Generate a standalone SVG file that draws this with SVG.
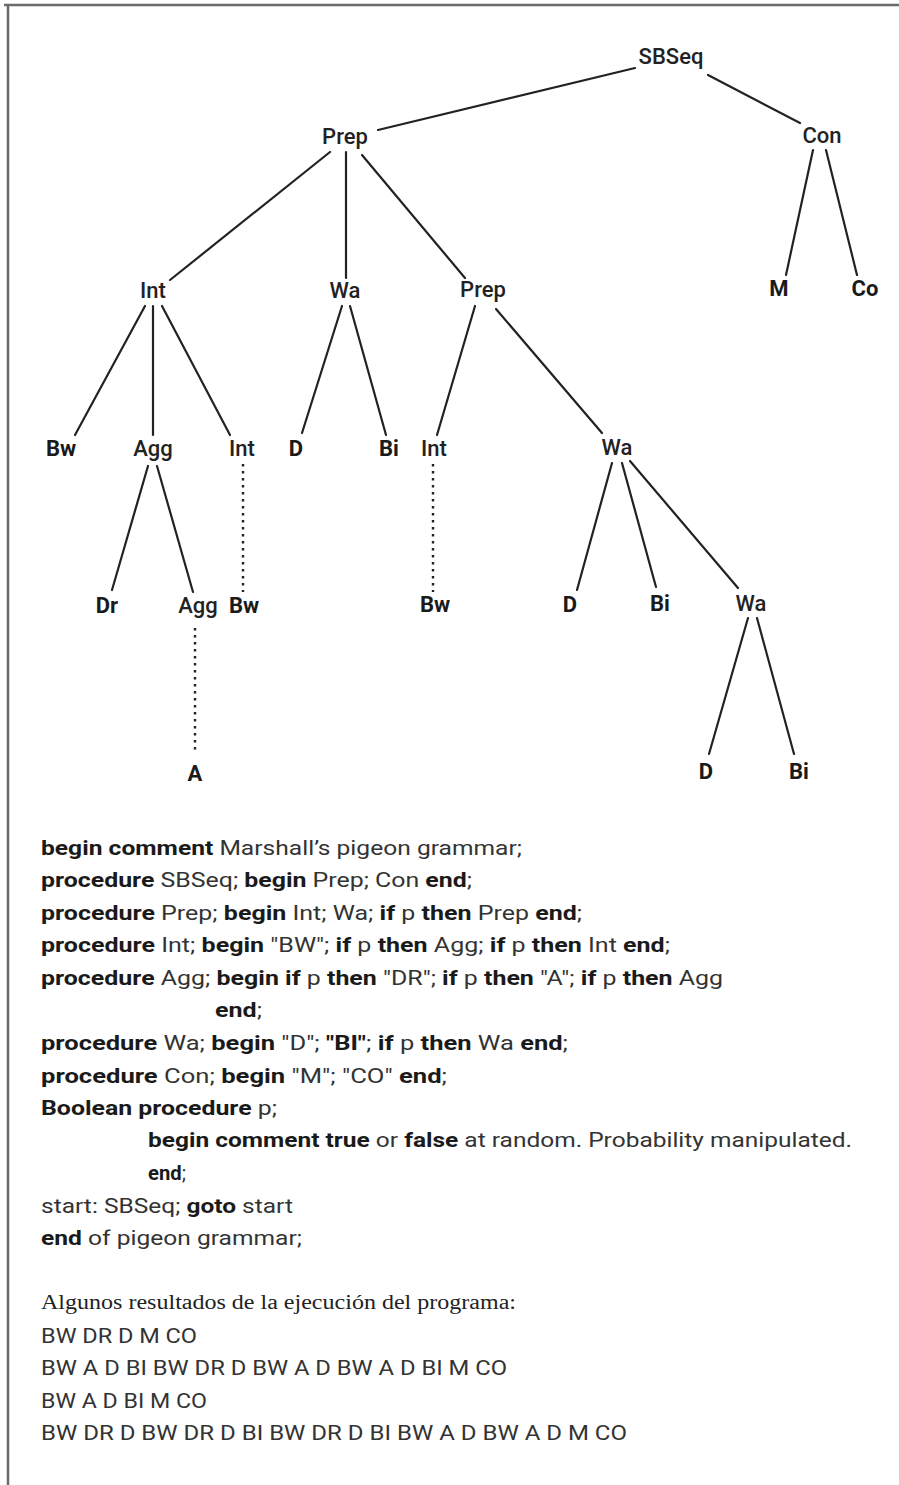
<svg xmlns="http://www.w3.org/2000/svg" width="899" height="1485" viewBox="0 0 899 1485">
  <style>
    .frame { stroke: #6a6a6a; stroke-width: 2.5; fill: none; }
    .edge { stroke: #222; stroke-width: 2.2; fill: none; stroke-linecap: round; }
    .dot { stroke: #222; stroke-width: 2.4; fill: none; stroke-dasharray: 2.5 4.5; }
    .nt { font-family: Roboto, "Liberation Sans", sans-serif; font-size: 22px; font-weight: 500; fill: #222; text-anchor: middle; }
    .t { font-family: Roboto, "Liberation Sans", sans-serif; font-size: 22px; font-weight: 700; fill: #1a1a1a; text-anchor: middle; }
    .code { font-family: Roboto, "Liberation Sans", sans-serif; font-size: 21px; fill: #333; }
    .code .b { font-weight: 700; fill: #1a1a1a; }
    .serif { font-family: "Liberation Serif", serif; font-size: 20px; fill: #222; }
  </style>
  <rect width="899" height="1485" fill="#fff"/>
  <!-- frame: top and left rules -->
  <path class="frame" d="M4 5 H899 M8 5 V1485"/>

  <!-- tree connectors -->
  <g id="connectors">
    <line class="edge" x1="635" y1="68" x2="378" y2="130"/>
    <line class="edge" x1="708" y1="75" x2="800" y2="123"/>
    <line class="edge" x1="330" y1="152" x2="170" y2="280"/>
    <line class="edge" x1="346" y1="152" x2="346" y2="278"/>
    <line class="edge" x1="362" y1="155" x2="465" y2="278"/>
    <line class="edge" x1="813" y1="150" x2="786" y2="275"/>
    <line class="edge" x1="826" y1="150" x2="857" y2="275"/>
    <line class="edge" x1="145" y1="306" x2="75" y2="435"/>
    <line class="edge" x1="153" y1="306" x2="153" y2="435"/>
    <line class="edge" x1="162" y1="306" x2="230" y2="435"/>
    <line class="edge" x1="342" y1="306" x2="302" y2="433"/>
    <line class="edge" x1="350" y1="306" x2="386" y2="435"/>
    <line class="edge" x1="475" y1="306" x2="437" y2="435"/>
    <line class="edge" x1="496" y1="309" x2="602" y2="433"/>
    <line class="edge" x1="148" y1="466" x2="112" y2="590"/>
    <line class="edge" x1="157" y1="466" x2="193" y2="592"/>
    <line class="dot" x1="243" y1="464" x2="243" y2="592"/>
    <line class="dot" x1="433" y1="464" x2="433" y2="592"/>
    <line class="edge" x1="612" y1="463" x2="577" y2="590"/>
    <line class="edge" x1="622" y1="463" x2="656" y2="587"/>
    <line class="edge" x1="630" y1="461" x2="738" y2="588"/>
    <line class="dot" x1="195" y1="628" x2="195" y2="754"/>
    <line class="edge" x1="748" y1="618" x2="709" y2="754"/>
    <line class="edge" x1="757" y1="618" x2="794" y2="754"/>
  </g>

  <!-- tree nodes -->
  <g id="n-sbseq"><text class="nt" x="671" y="64">SBSeq</text></g>
  <g id="n-prep"><text class="nt" x="345" y="144">Prep</text></g>
  <g id="n-con"><text class="nt" x="822" y="143">Con</text></g>
  <g id="n-int"><text class="nt" x="153" y="298">Int</text></g>
  <g id="n-wa"><text class="nt" x="345" y="298">Wa</text></g>
  <g id="n-prep2"><text class="nt" x="483" y="297">Prep</text></g>
  <g id="n-m"><text class="t" x="779" y="296">M</text></g>
  <g id="n-co"><text class="t" x="865" y="296">Co</text></g>
  <g id="n-bw1"><text class="t" x="61" y="456">Bw</text></g>
  <g id="n-agg1"><text class="nt" x="153" y="456">Agg</text></g>
  <g id="n-int2"><text class="nt" x="242" y="456">Int</text></g>
  <g id="n-d1"><text class="t" x="296" y="456">D</text></g>
  <g id="n-bi1"><text class="t" x="389" y="456">Bi</text></g>
  <g id="n-int3"><text class="nt" x="434" y="456">Int</text></g>
  <g id="n-wa2"><text class="nt" x="617" y="455">Wa</text></g>
  <g id="n-dr"><text class="t" x="107" y="613">Dr</text></g>
  <g id="n-agg2"><text class="nt" x="198" y="613">Agg</text></g>
  <g id="n-bw2"><text class="t" x="244" y="613">Bw</text></g>
  <g id="n-bw3"><text class="t" x="435" y="612">Bw</text></g>
  <g id="n-d2"><text class="t" x="570" y="612">D</text></g>
  <g id="n-bi2"><text class="t" x="660" y="611">Bi</text></g>
  <g id="n-wa3"><text class="nt" x="751" y="611">Wa</text></g>
  <g id="n-a"><text class="t" x="195" y="781">A</text></g>
  <g id="n-d3"><text class="t" x="706" y="779">D</text></g>
  <g id="n-bi3"><text class="t" x="799" y="779">Bi</text></g>

  <!-- program listing -->
  <g id="listing" class="code">
    <text x="41" y="855" textLength="481" lengthAdjust="spacingAndGlyphs"><tspan class="b">begin comment</tspan> Marshall’s pigeon grammar;</text>
    <text x="41" y="887" textLength="431" lengthAdjust="spacingAndGlyphs"><tspan class="b">procedure</tspan> SBSeq; <tspan class="b">begin</tspan> Prep; Con <tspan class="b">end</tspan>;</text>
    <text x="41" y="920" textLength="541" lengthAdjust="spacingAndGlyphs"><tspan class="b">procedure</tspan> Prep; <tspan class="b">begin</tspan> Int; Wa; <tspan class="b">if</tspan> p <tspan class="b">then</tspan> Prep <tspan class="b">end</tspan>;</text>
    <text x="41" y="952" textLength="629" lengthAdjust="spacingAndGlyphs"><tspan class="b">procedure</tspan> Int; <tspan class="b">begin</tspan> "BW"; <tspan class="b">if</tspan> p <tspan class="b">then</tspan> Agg; <tspan class="b">if</tspan> p <tspan class="b">then</tspan> Int <tspan class="b">end</tspan>;</text>
    <text x="41" y="985" textLength="682" lengthAdjust="spacingAndGlyphs"><tspan class="b">procedure</tspan> Agg; <tspan class="b">begin if</tspan> p <tspan class="b">then</tspan> "DR"; <tspan class="b">if</tspan> p <tspan class="b">then</tspan> "A"; <tspan class="b">if</tspan> p <tspan class="b">then</tspan> Agg</text>
    <text x="215" y="1017" textLength="47" lengthAdjust="spacingAndGlyphs"><tspan class="b">end</tspan>;</text>
    <text x="41" y="1050" textLength="527" lengthAdjust="spacingAndGlyphs"><tspan class="b">procedure</tspan> Wa; <tspan class="b">begin</tspan> "D"; <tspan class="b">"BI"</tspan>; <tspan class="b">if</tspan> p <tspan class="b">then</tspan> Wa <tspan class="b">end</tspan>;</text>
    <text x="41" y="1083" textLength="406" lengthAdjust="spacingAndGlyphs"><tspan class="b">procedure</tspan> Con; <tspan class="b">begin</tspan> "M"; "CO" <tspan class="b">end</tspan>;</text>
    <text x="41" y="1115" textLength="236" lengthAdjust="spacingAndGlyphs"><tspan class="b">Boolean procedure</tspan> p;</text>
    <text x="148" y="1147" textLength="704" lengthAdjust="spacingAndGlyphs"><tspan class="b">begin comment true</tspan> or <tspan class="b">false</tspan> at random. Probability manipulated.</text>
    <text x="148" y="1180" textLength="38" lengthAdjust="spacingAndGlyphs"><tspan class="b">end</tspan>;</text>
    <text x="41" y="1213" textLength="252" lengthAdjust="spacingAndGlyphs">start: SBSeq; <tspan class="b">goto</tspan> start</text>
    <text x="41" y="1245" textLength="261" lengthAdjust="spacingAndGlyphs"><tspan class="b">end</tspan> of pigeon grammar;</text>
  </g>

  <!-- sample output -->
  <g id="results">
    <text class="serif" x="41" y="1309" textLength="475" lengthAdjust="spacingAndGlyphs">Algunos resultados de la ejecución del programa:</text>
    <g class="code">
      <text x="41" y="1343" textLength="156" lengthAdjust="spacingAndGlyphs">BW DR D M CO</text>
      <text x="41" y="1375" textLength="466" lengthAdjust="spacingAndGlyphs">BW A D BI BW DR D BW A D BW A D BI M CO</text>
      <text x="41" y="1408" textLength="166" lengthAdjust="spacingAndGlyphs">BW A D BI M CO</text>
      <text x="41" y="1440" textLength="586" lengthAdjust="spacingAndGlyphs">BW DR D BW DR D BI BW DR D BI BW A D BW A D M CO</text>
    </g>
  </g>
</svg>
